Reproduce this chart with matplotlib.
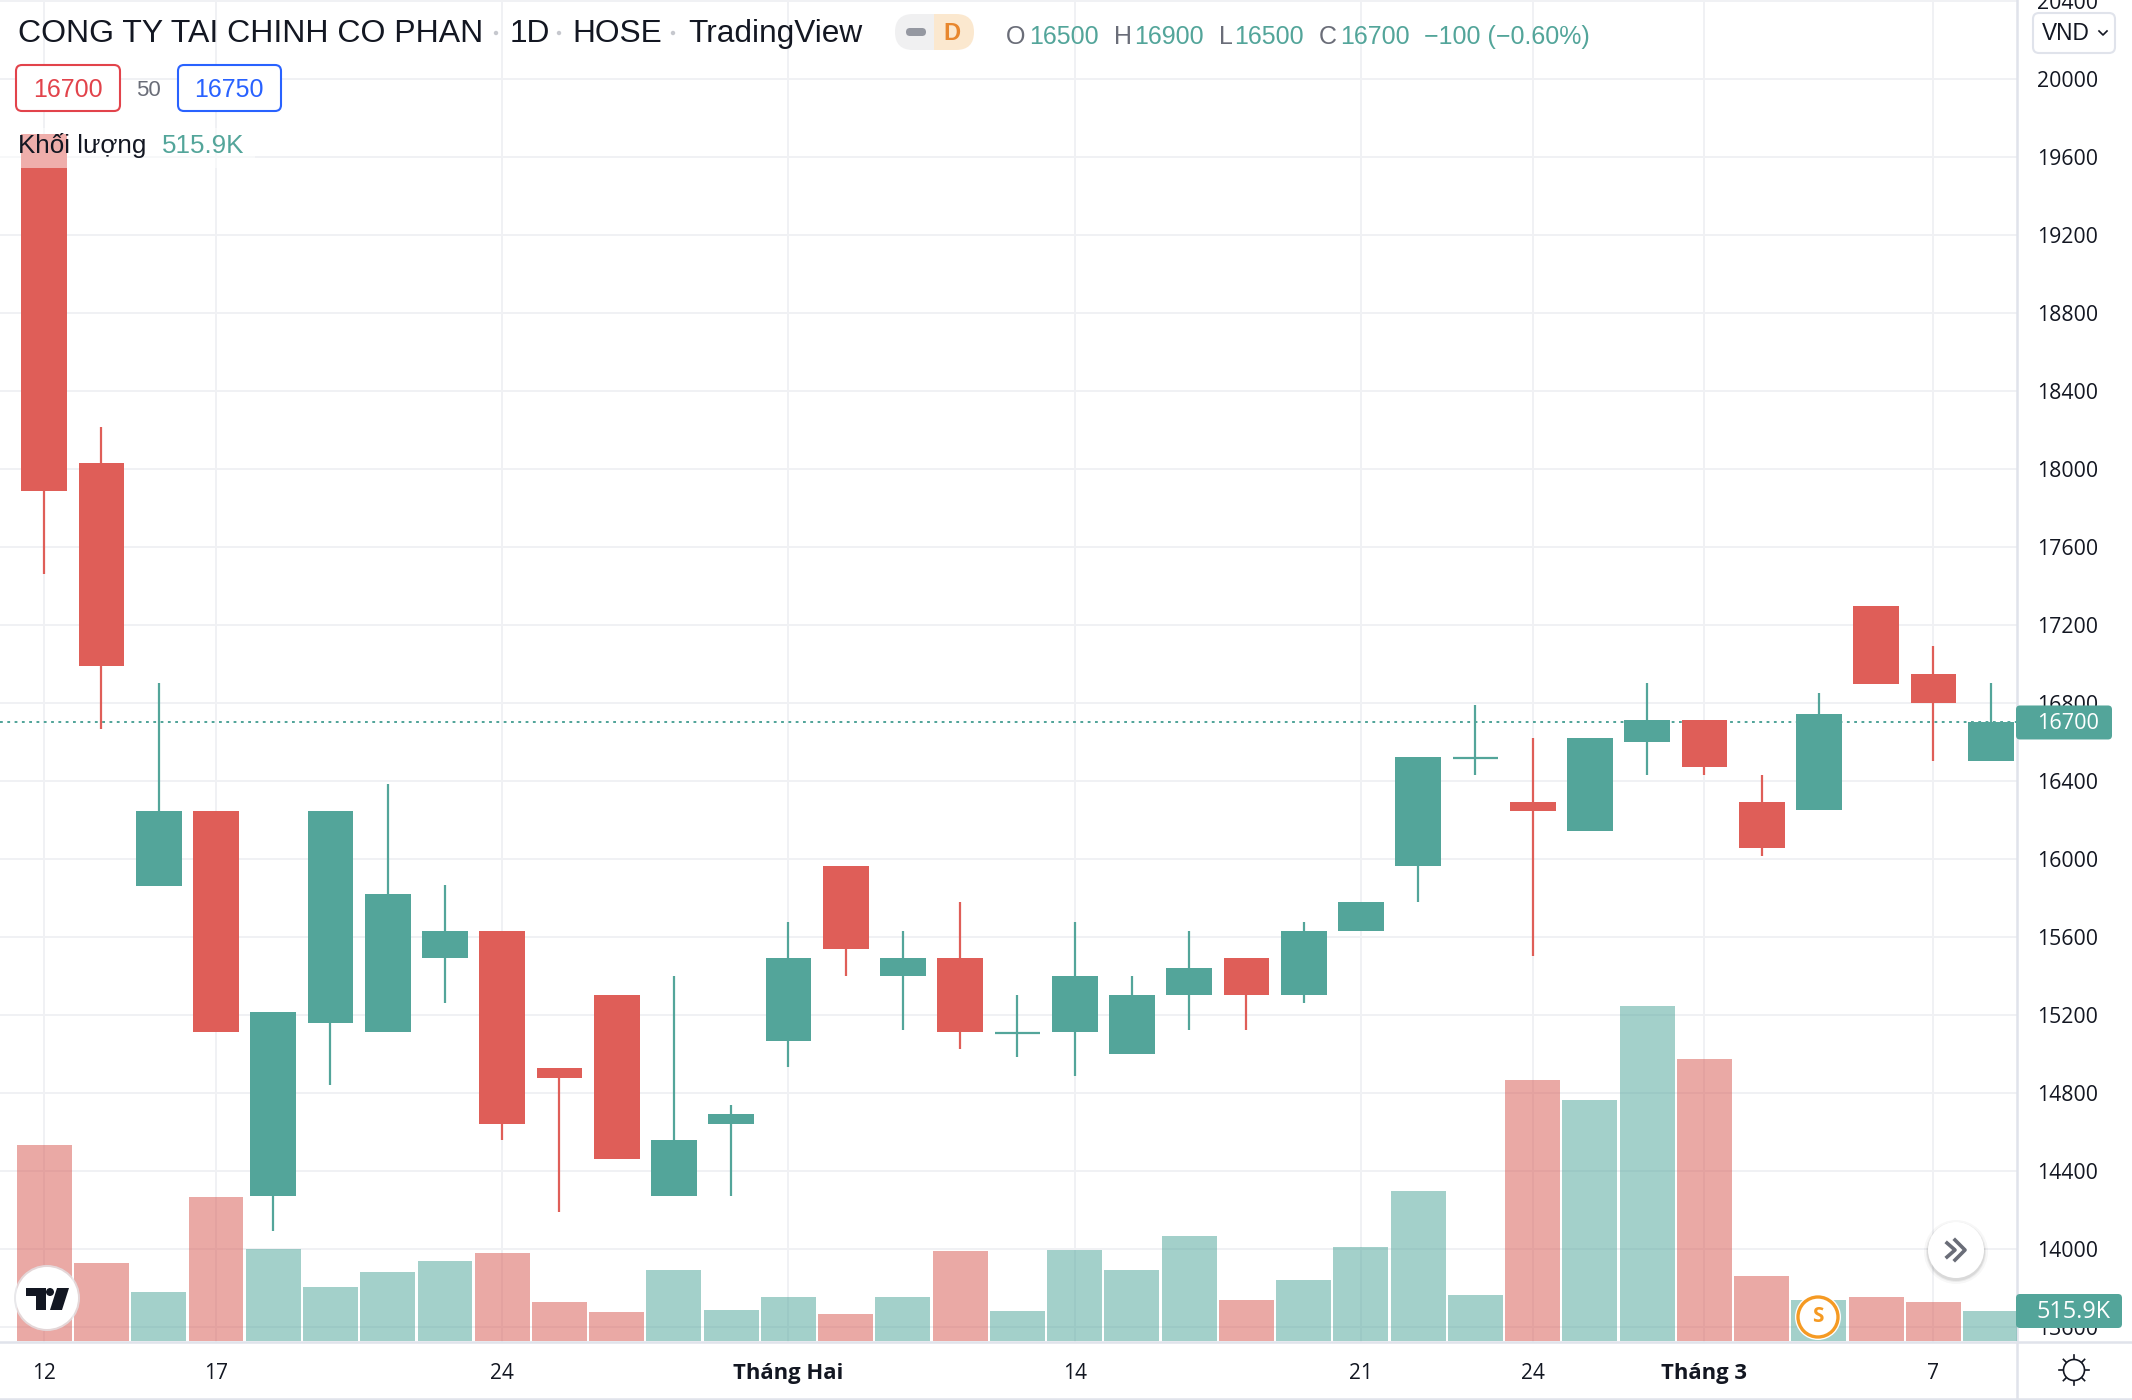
import matplotlib
matplotlib.use('Agg')
import numpy as np
import matplotlib.pyplot as plt
from matplotlib.patches import Circle, FancyBboxPatch, Polygon, Rectangle

# OHLC, one per session
opens  = [19720, 18030, 15860, 16244, 14272, 15160, 15115, 15491, 15630, 14927, 15303, 14272,
          14641, 15066, 15965, 15400, 15491, 15110, 15115, 15000, 15300, 15491, 15300, 15630,
          15965, 16520, 16293, 16146, 16600, 16711, 16293, 16250, 17296, 16948, 16500]
closes = [17889, 16990, 16244, 15115, 15213, 16244, 15819, 15630, 14641, 14878, 14460, 14558,
          14690, 15491, 15540, 15491, 15115, 15110, 15400, 15300, 15443, 15303, 15630, 15777,
          16523, 16520, 16244, 16620, 16711, 16474, 16056, 16746, 16899, 16800, 16700]
highs  = [19720, 18216, 16900, 16244, 15213, 16244, 16383, 15868, 15630, 14927, 15303, 15401,
          14739, 15679, 15965, 15630, 15777, 15300, 15679, 15401, 15630, 15491, 15679, 15777,
          16523, 16791, 16620, 16620, 16900, 16711, 16432, 16850, 17296, 17094, 16900]
lows   = [17463, 16669, 15860, 15115, 14091, 14843, 15115, 15261, 14558, 14188, 14460, 14272,
          14272, 14934, 15401, 15122, 15024, 14983, 14885, 15000, 15122, 15122, 15261, 15630,
          15777, 16432, 15500, 16146, 16432, 16432, 16014, 16250, 16899, 16502, 16500]
volumes = [3370, 1334, 842, 2480, 1591, 936, 1193, 1380, 1521, 679, 491, 1217, 538, 749, 468,
           749, 1544, 515, 1568, 1217, 1802, 702, 1053, 1615, 2574, 796, 4493, 4142, 5756,
           4844, 1123, 705, 749, 679, 515.9]

price_ticks = list(range(13600, 20401, 400))
time_ticks = [0, 3, 8, 13, 18, 23, 26, 29, 33]
time_labels = ['12', '17', '24', 'Tháng Hai', '14', '21', '24', 'Tháng 3', '7']
bold_labels = ['Tháng Hai', 'Tháng 3']
last_price = 16700
last_volume = 515.9

GREEN = '#53A59A'
RED = '#DF5E58'
VOL_GREEN = '#4FA59A'
VOL_RED = '#D85A54'
GRID = '#F0F1F4'
BORDER = '#E0E3EB'
INK = '#131722'
GREY = '#6A6D78'
UI_FONT = ['Liberation Sans', 'DejaVu Sans']
AXIS_FONT = ['Open Sans', 'DejaVu Sans']

W, H = 2132, 1400
fig = plt.figure(figsize=(W / 100, H / 100), dpi=100, facecolor='white')
box = [0, (H - 1342) / H, 2017 / W, 1342 / H]

idx = np.arange(len(opens))
xlim = (-0.773, 34.46)

# price pane
ax = fig.add_axes(box, zorder=1)
ax.set_xlim(*xlim)
ax.set_ylim(13523, 20405)
ax.set_axisbelow(True)
ax.grid(True, color=GRID, linewidth=1.4)
ax.set_xticks(time_ticks)
ax.set_xticklabels(time_labels, fontsize=15, family=AXIS_FONT, color=INK)
for lab in ax.get_xticklabels():
    if lab.get_text() in bold_labels:
        lab.set_fontweight('bold')
        lab.set_fontsize(15.8)
ax.yaxis.tick_right()
ax.set_yticks(price_ticks)
ax.set_yticklabels([str(p) for p in price_ticks], fontsize=15.3, family=AXIS_FONT, color=INK)
ax.tick_params(axis='y', length=0, pad=14.4)
ax.tick_params(axis='x', length=0, pad=15)
for side in ['left', 'top']:
    ax.spines[side].set_visible(False)
for side in ['right', 'bottom']:
    ax.spines[side].set_color(BORDER)
    ax.spines[side].set_linewidth(1.8)

ax.axhline(last_price, color=GREEN, linewidth=1.44, linestyle=(0, (1.4, 2.25)), zorder=1.5)

colors = [GREEN if c >= o else RED for o, c in zip(opens, closes)]
ax.vlines(idx, lows, highs, colors=colors, linewidth=1.6, zorder=2)
bottoms = [min(o, c) for o, c in zip(opens, closes)]
heights = [abs(o - c) for o, c in zip(opens, closes)]
ax.bar(idx, heights, bottom=bottoms, width=0.8, color=colors, linewidth=0, zorder=3)
for i in idx:
    if heights[i] == 0:
        ax.hlines(opens[i], i - 0.4, i + 0.4, colors=colors[i], linewidth=1.6, zorder=3)

# volume pane, same box, its own scale
ax_vol = fig.add_axes(box, zorder=2)
ax_vol.patch.set_visible(False)
ax_vol.axis('off')
ax_vol.set_xlim(*xlim)
ax_vol.set_ylim(-17, 1341 * 17.2)
vol_colors = [VOL_GREEN if c >= o else VOL_RED for o, c in zip(opens, closes)]
ax_vol.bar(idx, volumes, width=0.96, color=vol_colors, alpha=0.52, linewidth=0)

# overlay in pixel coords for the app chrome
ov = fig.add_axes([0, 0, 1, 1], zorder=3)
ov.patch.set_visible(False)
ov.axis('off')
ov.set_xlim(0, W)
ov.set_ylim(H, 0)


def label(x, y, s, color=INK, size=18, ha='left', font=UI_FONT, **kw):
    ov.text(x, y, s, color=color, fontsize=size, ha=ha, va='center', family=font, **kw)


def round_box(x0, y0, x1, y1, face, edge='none', lw=0, rad=6):
    ov.add_patch(FancyBboxPatch((x0 + rad, y0 + rad), x1 - x0 - 2 * rad, y1 - y0 - 2 * rad,
                                boxstyle='round,pad={},rounding_size={}'.format(rad, rad),
                                facecolor=face, edgecolor=edge, linewidth=lw))


# header line
label(18, 34, 'CONG TY TAI CHINH CO PHAN', size=23)
label(510, 34, '1D', size=22.8)
label(572, 34, 'HOSE', size=22.8)
label(688, 34, 'TradingView', size=22.8)
for x in [496, 559, 673]:
    ov.add_patch(Circle((x, 33), 1.5, color='#C6C8CE'))

# market status badge
ov.add_patch(FancyBboxPatch((895, 14), 40, 36, boxstyle='round,pad=0,rounding_size=18',
                            facecolor='#F0F0F1', edgecolor='none'))
ov.add_patch(Rectangle((913, 14), 21, 36, facecolor='#F0F0F1', edgecolor='none'))
ov.add_patch(FancyBboxPatch((934, 14), 40, 36, boxstyle='round,pad=0,rounding_size=18',
                            facecolor='#FBE8CF', edgecolor='none'))
ov.add_patch(Rectangle((934, 14), 18, 36, facecolor='#FBE8CF', edgecolor='none'))
ov.add_patch(FancyBboxPatch((906, 28), 20, 8, boxstyle='round,pad=0,rounding_size=4',
                            facecolor='#9598A1', edgecolor='none'))
label(952, 33, 'D', color='#E8872E', size=17, ha='center', fontweight='bold')

# OHLC readout
for x, s in [(1006, 'O'), (1114, 'H'), (1219, 'L'), (1319, 'C')]:
    label(x, 37, s, color=GREY)
for x, s in [(1029, '16500'), (1134, '16900'), (1234, '16500'), (1340, '16700'),
             (1424, '−100 (−0.60%)')]:
    label(x, 37, s, color=GREEN)

# bid / ask
round_box(16, 65, 120, 111, 'white', '#E2434B', 1.5)
label(68, 90, '16700', color='#E2434B', ha='center')
label(148, 90, '50', color=GREY, size=16, ha='center')
round_box(178, 65, 281, 111, 'white', '#2962FF', 1.5)
label(229, 90, '16750', color='#2962FF', ha='center')

# volume legend row sits on a see-through strip
ov.add_patch(Rectangle((0, 128), 255, 40, facecolor='white', alpha=0.5, edgecolor='none'))
label(18, 146, 'Khối lượng', size=18.7)
label(162, 146, '515.9K', color=GREEN, size=18.7)

# currency selector
round_box(2033, 13, 2115, 53, 'white', BORDER, 1.5)
label(2042, 33, 'VND', size=16.3)
ov.plot([2099, 2103, 2107], [31, 35, 31], color=INK, linewidth=1.2)

# price and volume tags
y_last = H - ax.transData.transform((0, last_price))[1]
round_box(2016, y_last - 17, 2112, y_last + 17, GREEN, rad=4)
label(2037, y_last + 1.5, str(last_price), color='white', size=15.6, font=AXIS_FONT)
round_box(2016, 1294, 2122, 1328, GREEN, rad=4)
label(2036, 1312.5, '{}K'.format(last_volume), color='white', size=16.8, font=AXIS_FONT)

# bottom chrome
ov.plot([2017, 2017], [1342, H], color=BORDER, linewidth=1.8)
ov.plot([0, W], [1398.5, 1398.5], color=BORDER, linewidth=1.8)
ov.plot([2017, W], [1342, 1342], color=BORDER, linewidth=1.8)

# settings sun
ov.add_patch(Circle((2074, 1370), 10.5, facecolor='none', edgecolor=INK, linewidth=1.2))
for a in np.arange(0, 360, 45):
    c, s = np.cos(np.radians(a)), np.sin(np.radians(a))
    ov.plot([2074 + 11 * c, 2074 + 15 * c], [1370 + 11 * s, 1370 + 15 * s], color=INK, linewidth=1.2)

# tradingview logo
ov.add_patch(Circle((47, 1298), 33, facecolor='#E3E3E6', edgecolor='none', alpha=0.8))
ov.add_patch(Circle((47, 1298), 31, facecolor='white', edgecolor='none'))
ov.add_patch(Polygon([(26, 1288), (46, 1288), (46, 1310), (36, 1310), (36, 1296), (26, 1296)],
                     facecolor=INK, edgecolor='none'))
ov.add_patch(Circle((50, 1292), 4, facecolor=INK, edgecolor='none'))
ov.add_patch(Polygon([(57, 1288), (69, 1288), (62, 1310), (50, 1310)], facecolor=INK, edgecolor='none'))

# split marker
ov.add_patch(Circle((1818, 1317), 23, facecolor='white', edgecolor='none'))
ov.add_patch(Circle((1818, 1317), 20, facecolor='white', edgecolor='#F59A23', linewidth=2.4))
label(1818, 1317, 'S', color='#F59A23', size=15, ha='center', font=AXIS_FONT, fontweight='bold')

# scroll button
for r, a in [(32, 0.03), (30, 0.05), (29, 0.07)]:
    ov.add_patch(Circle((1956, 1252), r, facecolor='black', edgecolor='none', alpha=a))
ov.add_patch(Circle((1956, 1250), 28, facecolor='white', edgecolor='none'))
ov.plot([1947, 1955, 1947], [1243, 1250, 1257], color=GREY, linewidth=2.6)
ov.plot([1955, 1965, 1955], [1240, 1250, 1260], color=GREY, linewidth=2.6)

fig.savefig('out.png', dpi=100, facecolor='white')
